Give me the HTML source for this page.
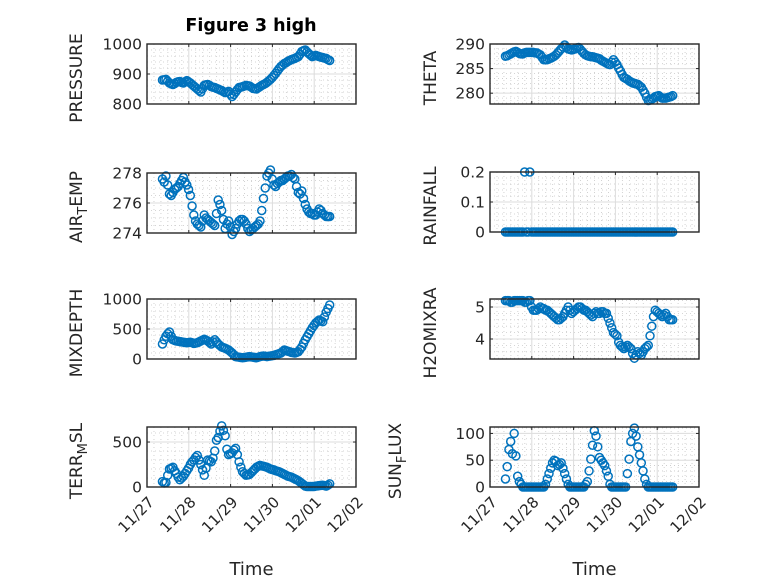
<!DOCTYPE html>
<html><head><meta charset="utf-8">
<style>
html,body{margin:0;padding:0;background:#fff;}
svg{display:block;font-family:"DejaVu Sans","Liberation Sans",sans-serif;}
</style></head>
<body>
<svg id="fig" width="778" height="583" viewBox="0 0 778 583">
<rect width="778" height="583" fill="#ffffff"/>
<text x="251" y="31" text-anchor="middle" font-size="17.5" font-weight="bold" fill="#000">Figure 3 high</text>
</svg>
<script>
// shared time axis (days since 11/27), hourly samples
const timeStart = 0.37;
const timeStepDays = 1/24;
const xTickLabels = ["11/27","11/28","11/29","11/30","12/01","12/02"];

const pressure = [880,881,882,876,870,867,865,868,872,874,875,872,870,874,878,874,870,865,860,855,850,845,840,851,862,864,865,862,858,856,855,852,850,847,845,841,838,840,842,833,825,832,840,848,855,856,858,860,862,861,860,856,852,851,850,854,858,862,865,868,872,877,882,888,895,902,910,918,925,930,935,938,942,945,948,950,952,955,958,966,975,978,980,974,968,963,958,960,962,960,958,956,955,953,952,948,945];
const airTemp = [277.6,277.4,277.8,277.2,276.6,276.5,276.7,276.9,277.0,277.1,277.3,277.5,277.7,277.4,277.2,276.9,276.5,275.8,275.2,274.8,274.6,274.5,274.4,274.8,275.2,275.0,274.9,274.8,274.7,274.6,274.5,275.3,276.2,275.9,275.5,274.9,274.3,274.6,274.8,274.4,273.9,274.1,274.3,274.6,274.8,274.9,274.9,274.8,274.6,274.3,274.1,274.2,274.3,274.4,274.5,274.6,274.8,275.5,276.3,277.0,277.8,278.0,278.2,277.6,277.2,277.1,277.3,277.4,277.5,277.5,277.6,277.7,277.8,277.8,277.9,277.7,277.6,277.1,276.7,276.6,276.8,276.3,275.9,275.6,275.4,275.3,275.3,275.2,275.2,275.4,275.6,275.5,275.3,275.2,275.1,275.1,275.1];
const mixDepth = [250,320,380,420,450,380,320,310,300,295,290,285,280,275,270,275,280,270,260,265,270,285,300,315,330,315,300,275,250,285,320,285,250,225,200,190,180,165,150,125,100,70,40,35,30,25,20,25,30,35,40,35,30,25,20,30,40,45,50,45,40,45,50,55,60,70,80,90,100,125,150,140,130,120,110,105,100,110,120,160,200,260,320,370,420,470,520,560,600,625,650,635,620,700,780,840,900];
const terrMsl = [60,45,50,130,200,210,220,180,150,110,80,100,120,150,180,210,250,280,300,330,350,300,250,190,130,210,300,290,280,320,400,520,550,620,680,630,570,420,360,370,380,410,430,360,280,220,170,150,130,135,140,160,180,200,220,230,240,235,230,225,220,210,200,195,190,180,175,170,160,150,140,130,120,115,110,100,90,80,70,55,40,25,10,5,5,5,5,5,10,12,15,18,20,15,10,20,35];
const theta = [287.5,287.6,287.8,288.0,288.2,288.4,288.5,288.3,288.1,288.0,288.0,288.2,288.3,288.3,288.3,288.3,288.3,288.2,288.2,288.0,287.8,287.3,286.8,286.8,286.8,287.0,287.1,287.3,287.5,287.8,288.2,288.6,289.0,289.4,289.8,289.4,289.0,288.9,288.8,288.9,289.0,289.2,289.3,288.9,288.5,288.1,287.8,287.6,287.5,287.4,287.4,287.3,287.2,287.1,287.0,286.7,286.5,286.3,286.1,285.9,285.8,286.3,286.8,286.3,285.8,285.1,284.5,283.8,283.2,283.0,282.8,282.5,282.3,282.1,282.0,281.9,281.8,281.5,281.2,280.6,280.0,279.2,278.5,278.6,278.8,279.0,279.3,279.4,279.5,279.2,279.0,279.0,279.0,279.1,279.2,279.3,279.5];
const rainfall = [0,0,0,0,0,0,0,0,0,0,0,0.2,0,0,0.2,0,0,0,0,0,0,0,0,0,0,0,0,0,0,0,0,0,0,0,0,0,0,0,0,0,0,0,0,0,0,0,0,0,0,0,0,0,0,0,0,0,0,0,0,0,0,0,0,0,0,0,0,0,0,0,0,0,0,0,0,0,0,0,0,0,0,0,0,0,0,0,0,0,0,0,0,0,0,0,0,0,0];
const h2oMix = [5.2,5.2,5.2,5.15,5.15,5.2,5.2,5.2,5.2,5.2,5.2,5.15,5.15,5.2,5.2,5.0,4.9,4.9,4.9,4.95,5.0,4.95,4.95,4.9,4.9,4.85,4.8,4.75,4.7,4.65,4.6,4.6,4.65,4.7,4.8,4.9,5.0,4.9,4.8,4.85,4.9,4.95,5.0,5.0,4.95,4.9,4.9,4.85,4.8,4.75,4.7,4.8,4.85,4.8,4.8,4.85,4.85,4.8,4.8,4.65,4.5,4.35,4.2,4.15,4.1,3.9,3.8,3.75,3.7,3.75,3.8,3.75,3.7,3.55,3.4,3.5,3.6,3.55,3.5,3.6,3.7,3.75,3.8,4.1,4.4,4.7,4.9,4.85,4.8,4.75,4.7,4.75,4.8,4.7,4.6,4.6,4.6];
const sunFlux = [15,38,70,85,62,100,58,20,10,5,0,0,0,0,0,0,0,0,0,0,0,0,0,5,15,25,35,45,50,48,40,42,45,35,25,15,5,0,0,0,0,0,0,0,0,0,5,10,30,52,78,105,95,75,55,50,45,40,30,20,5,0,0,0,0,0,0,0,0,0,25,52,85,100,110,95,75,60,45,30,15,5,0,0,0,0,0,0,0,0,0,0,0,0,0,0,0];

const pressureTicks = [800,900,1000];
const airTicks = [274,276,278];
const mixTicks = [0,500,1000];
const terrTicks = [0,500];
const thetaTicks = [280,285,290];
const rainTicks = [0,0.1,0.2];
const h2oTicks = [4,5];
const sunTicks = [0,50,100];

const NS = "http://www.w3.org/2000/svg";
const svg = document.getElementById('fig');
function mk(tag, attrs, parent){ const e=document.createElementNS(NS,tag); for(const k in attrs) e.setAttribute(k,attrs[k]); (parent||svg).appendChild(e); return e; }

const panels = [
 {name:'pressure', data:pressure, ticks:pressureTicks, ymin:800, ymax:1000, minor:20, x0:147, y0:44, label:['PRESSURE'], lx:82, bottom:false},
 {name:'air-temp', data:airTemp, ticks:airTicks, ymin:274, ymax:278, minor:0.5, x0:147, y0:173, label:['AIR','T','EMP'], lx:82, bottom:false},
 {name:'mixdepth', data:mixDepth, ticks:mixTicks, ymin:0, ymax:1000, minor:100, x0:147, y0:299, label:['MIXDEPTH'], lx:82, bottom:false},
 {name:'terr-msl', data:terrMsl, ticks:terrTicks, ymin:0, ymax:667, minor:100, x0:147, y0:427, label:['TERR','M','SL'], lx:82, bottom:true},
 {name:'theta', data:theta, ticks:thetaTicks, ymin:277.8, ymax:290, minor:1, x0:490, y0:44, label:['THETA'], lx:436, bottom:false},
 {name:'rainfall', data:rainfall, ticks:rainTicks, ymin:0, ymax:0.2, minor:0.02, x0:490, y0:172, label:['RAINFALL'], lx:436, bottom:false},
 {name:'h2omixra', data:h2oMix, ticks:h2oTicks, ymin:3.375, ymax:5.25, minor:0.2, x0:490, y0:299, label:['H2OMIXRA'], lx:436, bottom:false},
 {name:'sun-flux', data:sunFlux, ticks:sunTicks, ymin:0, ymax:112, minor:10, x0:490, y0:427, label:['SUN','F','LUX'], lx:401, bottom:true}
];
const W = 209, H = 60, DAYS = 5;

panels.forEach(p=>{
  const g = mk('g',{});
  
  
  const xs = d => p.x0 + d/DAYS*W;
  const ys = v => p.y0 + H - (v-p.ymin)/(p.ymax-p.ymin)*H;
  mk('rect',{x:p.x0,y:p.y0,width:W,height:H,fill:'#fff'},g);
  for(let i=1;i<DAYS*6;i++){ if(i%6===0) continue; const x=xs(i/6);
    mk('line',{x1:x,x2:x,y1:p.y0,y2:p.y0+H,stroke:'#c8c8c8','stroke-width':0.8,'stroke-dasharray':'1 3'},g); }
  const start = Math.ceil(p.ymin/p.minor-1e-9);
  for(let k=start; k*p.minor<=p.ymax+1e-9; k++){ const v=k*p.minor; if(p.ticks.some(t=>Math.abs(t-v)<1e-9)) continue; const y=ys(v);
    mk('line',{x1:p.x0,x2:p.x0+W,y1:y,y2:y,stroke:'#c8c8c8','stroke-width':0.8,'stroke-dasharray':'1 3'},g); }
  for(let i=1;i<DAYS;i++){ const x=xs(i); mk('line',{x1:x,x2:x,y1:p.y0,y2:p.y0+H,stroke:'#dcdcdc','stroke-width':1},g); }
  p.ticks.forEach(t=>{ const y=ys(t); mk('line',{x1:p.x0,x2:p.x0+W,y1:y,y2:y,stroke:'#dcdcdc','stroke-width':1},g);
    mk('line',{x1:p.x0,x2:p.x0+3,y1:y,y2:y,stroke:'#262626'},g);
    mk('line',{x1:p.x0+W-3,x2:p.x0+W,y1:y,y2:y,stroke:'#262626'},g);
    const tl = mk('text',{x:p.x0-5,y:y+5.5,'text-anchor':'end','font-size':15.5,fill:'#262626'},g);
    tl.textContent = String(t);
    
    
  });
  for(let i=1;i<DAYS;i++){ const x=xs(i);
    mk('line',{x1:x,x2:x,y1:p.y0+H,y2:p.y0+H-3,stroke:'#262626'},g);
    mk('line',{x1:x,x2:x,y1:p.y0,y2:p.y0+3,stroke:'#262626'},g); }
  p.data.forEach((v,i)=>{
    const c = mk('circle',{cx:xs(timeStart+i*timeStepDays),cy:ys(v),r:4,fill:'none',stroke:'#0072BD','stroke-width':1.5},g);
    
    
  });
  mk('rect',{x:p.x0,y:p.y0,width:W,height:H,fill:'none',stroke:'#262626','stroke-width':1.4},g);
  const cy = p.y0 + H/2 + 4;
  const lab = mk('text',{x:0,y:0,'text-anchor':'middle','font-size':17,fill:'#262626',transform:`translate(${p.lx},${cy}) rotate(-90)`},g);
  
  
  if(p.label.length===1){ lab.textContent=p.label[0]; }
  else {
    const a=mk('tspan',{},lab); a.textContent=p.label[0];
    const b=mk('tspan',{dy:5,'font-size':13},lab); b.textContent=p.label[1];
    const c=mk('tspan',{dy:-5},lab); c.textContent=p.label[2];
  }
  if(p.bottom){
    xTickLabels.forEach((s,i)=>{ const x=xs(i);
      const t = mk('text',{x:0,y:0,'text-anchor':'end','font-size':15,fill:'#262626',transform:`translate(${x+8},${p.y0+H+16}) rotate(-45)`},g);
      t.textContent = s;
      
      
    });
    const xt = mk('text',{x:p.x0+W/2,y:575,'text-anchor':'middle','font-size':18,fill:'#262626'},g);
    xt.textContent='Time';
    
    
  }
});
</script>
</body></html>
